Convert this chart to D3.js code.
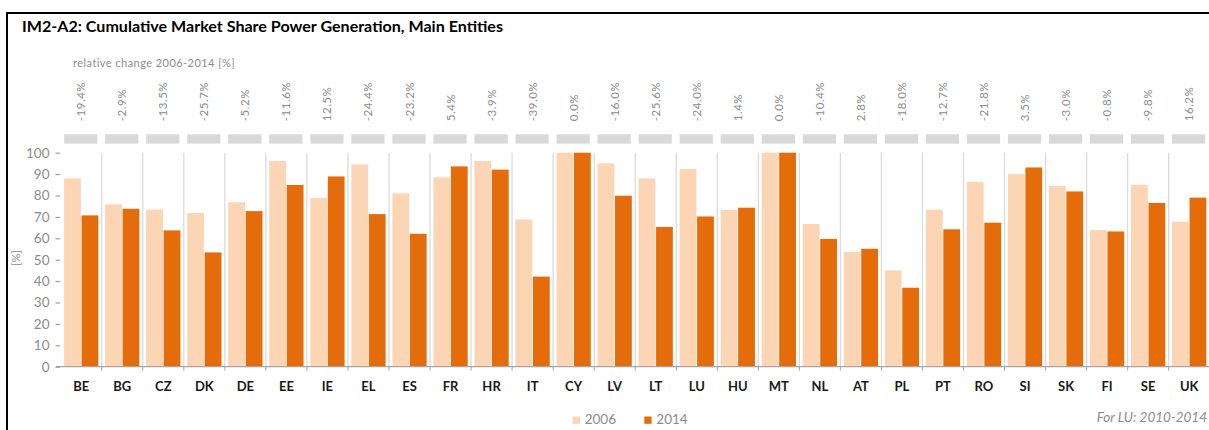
<!DOCTYPE html>
<html>
<head>
<meta charset="utf-8">
<script src="https://cdn.jsdelivr.net/npm/d3@7"></script>
<style>
  body { margin: 0; background: #fff; }
  svg { display: block; font-family: Lato, "Open Sans", sans-serif; }
</style>
</head>
<body>
<div id="wrapper"></div>
<script>
// 1. Data
const countries = ["BE", "BG", "CZ", "DK", "DE", "EE", "IE", "EL", "ES", "FR", "HR", "IT", "CY", "LV",
  "LT", "LU", "HU", "MT", "NL", "AT", "PL", "PT", "RO", "SI", "SK", "FI", "SE", "UK"]
const share2006 = [88.0, 75.9, 73.4, 71.8, 76.8, 96.1, 78.8, 94.5, 81.0, 88.5, 96.1, 68.8, 100, 95.0,
  88.0, 92.4, 73.2, 100, 66.7, 53.6, 45.0, 73.4, 86.4, 90.0, 84.4, 63.9, 85.0, 67.8]
const share2014 = [70.7, 73.8, 63.7, 53.4, 72.7, 84.9, 88.9, 71.3, 62.1, 93.6, 92.1, 42.1, 100, 79.9,
  65.3, 70.2, 74.3, 100, 59.7, 55.1, 36.9, 64.2, 67.3, 93.1, 81.9, 63.2, 76.5, 79.0]
const relChange = [-19.4, -2.9, -13.5, -25.7, -5.2, -11.6, 12.5, -24.4, -23.2, 5.4, -3.9, -39.0, 0.0, -16.0,
  -25.6, -24.0, 1.4, 0.0, -10.4, 2.8, -18.0, -12.7, -21.8, 3.5, -3.0, -0.8, -9.8, 16.2]
const years = ["2006", "2014"]
const yTicks = [0, 10, 20, 30, 40, 50, 60, 70, 80, 90, 100]

const dataset = countries.map((c, i) => ({
  country: c,
  change: relChange[i],
  values: [
    { year: "2006", value: share2006[i] },
    { year: "2014", value: share2014[i] },
  ],
}))

const colors = { "2006": "#fcd5b5", "2014": "#e46c0a" }
const grey = "#8c8c8c"

// 2. Dimensions
let dimensions = {
  width: 1209,
  height: 430,
  margin: { top: 152.7, right: -0.7, bottom: 63.3, left: 60.7 },
}
dimensions.boundedWidth = dimensions.width - dimensions.margin.left - dimensions.margin.right
dimensions.boundedHeight = dimensions.height - dimensions.margin.top - dimensions.margin.bottom

// 3. Canvas
const wrapper = d3.select("#wrapper")
  .append("svg")
  .attr("width", dimensions.width)
  .attr("height", dimensions.height)

wrapper.append("rect")
  .attr("x", 7)
  .attr("y", 13)
  .attr("width", 1400)
  .attr("height", 600)
  .attr("fill", "none")
  .attr("stroke", "#000")
  .attr("stroke-width", 2)

wrapper.append("text")
  .attr("x", 22)
  .attr("y", 31.5)
  .attr("font-size", 15.5)
  .attr("font-weight", "bold")
  .attr("fill", "#000")
  .attr("textLength", 481)
  .attr("lengthAdjust", "spacingAndGlyphs")
  .text("IM2-A2: Cumulative Market Share Power Generation, Main Entities")

const bounds = wrapper.append("g")
  .attr("transform", `translate(${dimensions.margin.left},${dimensions.margin.top})`)

// 4. Scales
const xScale = d3.scaleBand()
  .domain(countries)
  .range([0, dimensions.boundedWidth])

const pad = 3.4
const x1Scale = d3.scaleBand()
  .domain(years)
  .range([pad, xScale.bandwidth() - pad])
  .paddingInner(0.04)

const yScale = d3.scaleLinear()
  .domain([0, 100])
  .range([dimensions.boundedHeight, 0])

// 5. Gridlines between countries
bounds.selectAll(".grid")
  .data(countries.slice(1))
  .join("line")
  .attr("class", "grid")
  .attr("x1", d => xScale(d))
  .attr("x2", d => xScale(d))
  .attr("y1", yScale(100))
  .attr("y2", yScale(0))
  .attr("stroke", "#d9d9d9")
  .attr("stroke-width", 1.2)

// 6. Bars
const groups = bounds.selectAll(".country")
  .data(dataset)
  .join("g")
  .attr("class", "country")
  .attr("transform", d => `translate(${xScale(d.country)},0)`)

groups.selectAll("rect")
  .data(d => d.values)
  .join("rect")
  .attr("x", d => x1Scale(d.year))
  .attr("width", x1Scale.bandwidth())
  .attr("y", d => yScale(d.value))
  .attr("height", d => yScale(0) - yScale(d.value))
  .attr("fill", d => colors[d.year])

// grey boxes + relative change labels above
groups.append("rect")
  .attr("x", pad)
  .attr("width", xScale.bandwidth() - 2 * pad - 1)
  .attr("y", -18.4)
  .attr("height", 9.4)
  .attr("fill", "#d9d9d9")

groups.append("text")
  .attr("transform", `translate(${xScale.bandwidth() / 2 + 4},-31.5) rotate(-90)`)
  .attr("font-size", 11.5)
  .attr("fill", grey)
  .attr("letter-spacing", 0.5)
  .text(d => d.change.toFixed(1) + "%")

wrapper.append("text")
  .attr("x", 73)
  .attr("y", 67)
  .attr("font-size", 11)
  .attr("fill", grey)
  .attr("letter-spacing", 0.45)
  .text("relative change 2006-2014 [%]")

// 7. Axes
const xAxis = bounds.append("g")
  .attr("transform", `translate(0,${dimensions.boundedHeight})`)

xAxis.append("line")
  .attr("x1", -4.7)
  .attr("x2", dimensions.boundedWidth)
  .attr("stroke", "#a6a6a6")
  .attr("stroke-width", 1.3)

xAxis.selectAll(".tick-mark")
  .data(countries.slice(1))
  .join("line")
  .attr("class", "tick-mark")
  .attr("x1", d => xScale(d))
  .attr("x2", d => xScale(d))
  .attr("y1", 0)
  .attr("y2", 4)
  .attr("stroke", "#a6a6a6")

xAxis.selectAll(".x-label")
  .data(countries)
  .join("text")
  .attr("class", "x-label")
  .attr("x", d => xScale(d) + xScale.bandwidth() / 2)
  .attr("y", 24)
  .attr("text-anchor", "middle")
  .attr("font-size", 13)
  .attr("font-weight", "bold")
  .attr("fill", "#1a1a1a")
  .text(d => d)

const yAxisGenerator = d3.axisLeft(yScale)
  .tickValues(yTicks)
  .tickSize(4.5)
  .tickPadding(6)

const yAxis = bounds.append("g")
  .attr("transform", "translate(-0.7,0)")
  .call(yAxisGenerator)

yAxis.select(".domain").remove()
yAxis.selectAll(".tick line").attr("stroke", grey)
yAxis.selectAll(".tick text")
  .attr("font-size", 13.5)
  .attr("fill", grey)
  .attr("font-family", "Lato, sans-serif")

wrapper.append("text")
  .attr("transform", "translate(20,258) rotate(-90)")
  .attr("text-anchor", "middle")
  .attr("font-size", 11)
  .attr("fill", grey)
  .text("[%]")

// 8. Legend and footnote
const legend = wrapper.append("g")
  .attr("transform", "translate(572.7,416.5)")

const legendItems = legend.selectAll("g")
  .data(years)
  .join("g")
  .attr("transform", (d, i) => `translate(${i * 71.6},0)`)

legendItems.append("rect")
  .attr("width", 7.3)
  .attr("height", 7.3)
  .attr("fill", d => colors[d])

legendItems.append("text")
  .attr("x", 12)
  .attr("y", 7.5)
  .attr("font-size", 13.5)
  .attr("fill", grey)
  .text(d => d)

wrapper.append("text")
  .attr("x", 1207)
  .attr("y", 422)
  .attr("text-anchor", "end")
  .attr("font-size", 13.5)
  .attr("font-style", "italic")
  .attr("fill", grey)
  .text("For LU: 2010-2014")
</script>
</body>
</html>
